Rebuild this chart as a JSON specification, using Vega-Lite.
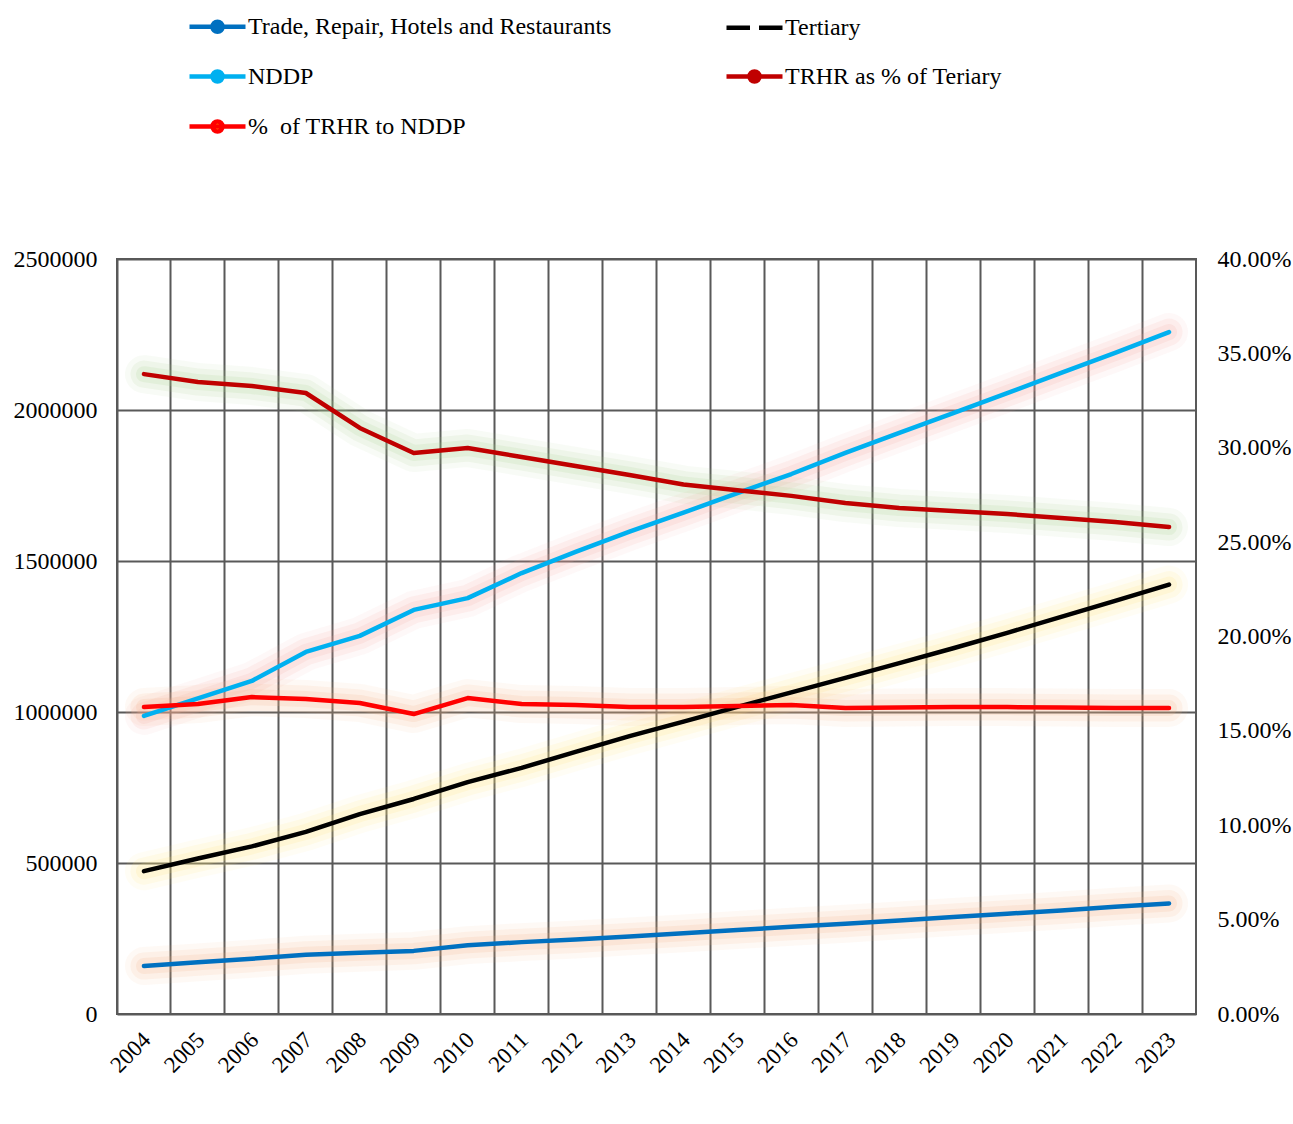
{
  "$schema": "https://vega.github.io/schema/vega-lite/v6.json",
  "width": 1079,
  "height": 755,
  "autosize": {"type": "pad"},
  "padding": {"left": 13, "top": 14, "right": 3, "bottom": 5},
  "background": "white",
  "config": {
    "font": "Liberation Serif",
    "view": {"stroke": "#595959", "strokeWidth": 2},
    "axis": {
      "labelFont": "Liberation Serif",
      "labelColor": "black",
      "domain": false,
      "ticks": false,
      "gridColor": "#595959",
      "gridWidth": 2,
      "gridOpacity": 1,
      "title": null
    }
  },
  "data": {
    "values": [
      {"year": 2004, "series": "Trade, Repair, Hotels and Restaurants", "value": 159000},
      {"year": 2005, "series": "Trade, Repair, Hotels and Restaurants", "value": 171000},
      {"year": 2006, "series": "Trade, Repair, Hotels and Restaurants", "value": 183000},
      {"year": 2007, "series": "Trade, Repair, Hotels and Restaurants", "value": 196000},
      {"year": 2008, "series": "Trade, Repair, Hotels and Restaurants", "value": 203000},
      {"year": 2009, "series": "Trade, Repair, Hotels and Restaurants", "value": 209000},
      {"year": 2010, "series": "Trade, Repair, Hotels and Restaurants", "value": 228000},
      {"year": 2011, "series": "Trade, Repair, Hotels and Restaurants", "value": 238000},
      {"year": 2012, "series": "Trade, Repair, Hotels and Restaurants", "value": 247000},
      {"year": 2013, "series": "Trade, Repair, Hotels and Restaurants", "value": 257000},
      {"year": 2014, "series": "Trade, Repair, Hotels and Restaurants", "value": 267000},
      {"year": 2015, "series": "Trade, Repair, Hotels and Restaurants", "value": 278000},
      {"year": 2016, "series": "Trade, Repair, Hotels and Restaurants", "value": 289000},
      {"year": 2017, "series": "Trade, Repair, Hotels and Restaurants", "value": 299000},
      {"year": 2018, "series": "Trade, Repair, Hotels and Restaurants", "value": 310000},
      {"year": 2019, "series": "Trade, Repair, Hotels and Restaurants", "value": 321000},
      {"year": 2020, "series": "Trade, Repair, Hotels and Restaurants", "value": 332000},
      {"year": 2021, "series": "Trade, Repair, Hotels and Restaurants", "value": 343000},
      {"year": 2022, "series": "Trade, Repair, Hotels and Restaurants", "value": 355000},
      {"year": 2023, "series": "Trade, Repair, Hotels and Restaurants", "value": 366000},

      {"year": 2004, "series": "Tertiary", "value": 473000},
      {"year": 2005, "series": "Tertiary", "value": 515000},
      {"year": 2006, "series": "Tertiary", "value": 555000},
      {"year": 2007, "series": "Tertiary", "value": 603000},
      {"year": 2008, "series": "Tertiary", "value": 662000},
      {"year": 2009, "series": "Tertiary", "value": 712000},
      {"year": 2010, "series": "Tertiary", "value": 768000},
      {"year": 2011, "series": "Tertiary", "value": 815000},
      {"year": 2012, "series": "Tertiary", "value": 868000},
      {"year": 2013, "series": "Tertiary", "value": 920000},
      {"year": 2014, "series": "Tertiary", "value": 968000},
      {"year": 2015, "series": "Tertiary", "value": 1017000},
      {"year": 2016, "series": "Tertiary", "value": 1065000},
      {"year": 2017, "series": "Tertiary", "value": 1113000},
      {"year": 2018, "series": "Tertiary", "value": 1162000},
      {"year": 2019, "series": "Tertiary", "value": 1211000},
      {"year": 2020, "series": "Tertiary", "value": 1262000},
      {"year": 2021, "series": "Tertiary", "value": 1315000},
      {"year": 2022, "series": "Tertiary", "value": 1368000},
      {"year": 2023, "series": "Tertiary", "value": 1422000},

      {"year": 2004, "series": "NDDP", "value": 987000},
      {"year": 2005, "series": "NDDP", "value": 1045000},
      {"year": 2006, "series": "NDDP", "value": 1103000},
      {"year": 2007, "series": "NDDP", "value": 1199000},
      {"year": 2008, "series": "NDDP", "value": 1252000},
      {"year": 2009, "series": "NDDP", "value": 1338000},
      {"year": 2010, "series": "NDDP", "value": 1377000},
      {"year": 2011, "series": "NDDP", "value": 1460000},
      {"year": 2012, "series": "NDDP", "value": 1530000},
      {"year": 2013, "series": "NDDP", "value": 1597000},
      {"year": 2014, "series": "NDDP", "value": 1660000},
      {"year": 2015, "series": "NDDP", "value": 1725000},
      {"year": 2016, "series": "NDDP", "value": 1788000},
      {"year": 2017, "series": "NDDP", "value": 1858000},
      {"year": 2018, "series": "NDDP", "value": 1924000},
      {"year": 2019, "series": "NDDP", "value": 1990000},
      {"year": 2020, "series": "NDDP", "value": 2056000},
      {"year": 2021, "series": "NDDP", "value": 2123000},
      {"year": 2022, "series": "NDDP", "value": 2189000},
      {"year": 2023, "series": "NDDP", "value": 2258000},

      {"year": 2004, "series": "TRHR as % of Teriary", "value": 0.339},
      {"year": 2005, "series": "TRHR as % of Teriary", "value": 0.3348},
      {"year": 2006, "series": "TRHR as % of Teriary", "value": 0.3327},
      {"year": 2007, "series": "TRHR as % of Teriary", "value": 0.329},
      {"year": 2008, "series": "TRHR as % of Teriary", "value": 0.3105},
      {"year": 2009, "series": "TRHR as % of Teriary", "value": 0.2972},
      {"year": 2010, "series": "TRHR as % of Teriary", "value": 0.2999},
      {"year": 2011, "series": "TRHR as % of Teriary", "value": 0.2951},
      {"year": 2012, "series": "TRHR as % of Teriary", "value": 0.2903},
      {"year": 2013, "series": "TRHR as % of Teriary", "value": 0.2856},
      {"year": 2014, "series": "TRHR as % of Teriary", "value": 0.2805},
      {"year": 2015, "series": "TRHR as % of Teriary", "value": 0.2775},
      {"year": 2016, "series": "TRHR as % of Teriary", "value": 0.2745},
      {"year": 2017, "series": "TRHR as % of Teriary", "value": 0.2707},
      {"year": 2018, "series": "TRHR as % of Teriary", "value": 0.2681},
      {"year": 2019, "series": "TRHR as % of Teriary", "value": 0.2665},
      {"year": 2020, "series": "TRHR as % of Teriary", "value": 0.2649},
      {"year": 2021, "series": "TRHR as % of Teriary", "value": 0.2628},
      {"year": 2022, "series": "TRHR as % of Teriary", "value": 0.2607},
      {"year": 2023, "series": "TRHR as % of Teriary", "value": 0.258},

      {"year": 2004, "series": "%\u00a0 of TRHR to NDDP", "value": 0.1626},
      {"year": 2005, "series": "%\u00a0 of TRHR to NDDP", "value": 0.1642},
      {"year": 2006, "series": "%\u00a0 of TRHR to NDDP", "value": 0.1679},
      {"year": 2007, "series": "%\u00a0 of TRHR to NDDP", "value": 0.1669},
      {"year": 2008, "series": "%\u00a0 of TRHR to NDDP", "value": 0.1648},
      {"year": 2009, "series": "%\u00a0 of TRHR to NDDP", "value": 0.1589},
      {"year": 2010, "series": "%\u00a0 of TRHR to NDDP", "value": 0.1674},
      {"year": 2011, "series": "%\u00a0 of TRHR to NDDP", "value": 0.1642},
      {"year": 2012, "series": "%\u00a0 of TRHR to NDDP", "value": 0.1637},
      {"year": 2013, "series": "%\u00a0 of TRHR to NDDP", "value": 0.1626},
      {"year": 2014, "series": "%\u00a0 of TRHR to NDDP", "value": 0.1626},
      {"year": 2015, "series": "%\u00a0 of TRHR to NDDP", "value": 0.1632},
      {"year": 2016, "series": "%\u00a0 of TRHR to NDDP", "value": 0.1637},
      {"year": 2017, "series": "%\u00a0 of TRHR to NDDP", "value": 0.1621},
      {"year": 2018, "series": "%\u00a0 of TRHR to NDDP", "value": 0.1624},
      {"year": 2019, "series": "%\u00a0 of TRHR to NDDP", "value": 0.1626},
      {"year": 2020, "series": "%\u00a0 of TRHR to NDDP", "value": 0.1626},
      {"year": 2021, "series": "%\u00a0 of TRHR to NDDP", "value": 0.1624},
      {"year": 2022, "series": "%\u00a0 of TRHR to NDDP", "value": 0.1621},
      {"year": 2023, "series": "%\u00a0 of TRHR to NDDP", "value": 0.1621}
    ]
  },
  "encoding": {
    "x": {
      "field": "year",
      "type": "ordinal",
      "scale": {"type": "band", "paddingInner": 0, "paddingOuter": 0},
      "axis": {
        "grid": true,
        "bandPosition": 0,
        "labelOffset": 3,
        "labelAngle": -45,
        "labelAlign": "right",
        "labelBaseline": "middle",
        "labelPadding": 22,
        "labelFontSize": 23
      }
    }
  },
  "layer": [
    {
      "transform": [{"filter": {"field": "series", "oneOf": ["Trade, Repair, Hotels and Restaurants", "Tertiary", "NDDP"]}}],
      "layer": [
        {"mark": {"type": "line", "strokeWidth": 38, "opacity": 0.08, "strokeCap": "round", "strokeJoin": "round"}},
        {"mark": {"type": "line", "strokeWidth": 27, "opacity": 0.12, "strokeCap": "round", "strokeJoin": "round"}},
        {"mark": {"type": "line", "strokeWidth": 16, "opacity": 0.16, "strokeCap": "round", "strokeJoin": "round"}}
      ],
      "encoding": {
        "y": {"field": "value", "type": "quantitative", "scale": {"domain": [0, 2500000], "nice": false}, "axis": null},
        "stroke": {
          "field": "series",
          "scale": {
            "domain": ["NDDP", "Tertiary", "Trade, Repair, Hotels and Restaurants", "TRHR as % of Teriary", "%\u00a0 of TRHR to NDDP"],
            "range": ["#F4A7A0", "#FFE97A", "#F4B183", "#A9D18E", "#F4B183"]
          },
          "legend": null
        }
      }
    },
    {
      "transform": [{"filter": {"field": "series", "oneOf": ["TRHR as % of Teriary", "%\u00a0 of TRHR to NDDP"]}}],
      "layer": [
        {"mark": {"type": "line", "strokeWidth": 38, "opacity": 0.08, "strokeCap": "round", "strokeJoin": "round"}},
        {"mark": {"type": "line", "strokeWidth": 27, "opacity": 0.12, "strokeCap": "round", "strokeJoin": "round"}},
        {"mark": {"type": "line", "strokeWidth": 16, "opacity": 0.16, "strokeCap": "round", "strokeJoin": "round"}}
      ],
      "encoding": {
        "y": {"field": "value", "type": "quantitative", "scale": {"domain": [0, 0.4], "nice": false}, "axis": null},
        "stroke": {"field": "series", "legend": null}
      }
    },
    {
      "transform": [{"filter": {"field": "series", "oneOf": ["Trade, Repair, Hotels and Restaurants", "Tertiary", "NDDP"]}}],
      "mark": {"type": "line", "strokeWidth": 4.5, "strokeCap": "round", "strokeJoin": "round"},
      "encoding": {
        "y": {
          "field": "value",
          "type": "quantitative",
          "scale": {"domain": [0, 2500000], "nice": false},
          "axis": {
            "orient": "left",
            "values": [0, 500000, 1000000, 1500000, 2000000, 2500000],
            "format": "d",
            "grid": true,
            "labelFontSize": 24,
            "labelPadding": 20
          }
        },
        "color": {
          "field": "series",
          "type": "nominal",
          "scale": {
            "domain": ["Trade, Repair, Hotels and Restaurants", "Tertiary", "NDDP", "TRHR as % of Teriary", "%\u00a0 of TRHR to NDDP"],
            "range": ["#0070C0", "#000000", "#00B0F0", "#C00000", "#FF0000"]
          },
          "legend": {
            "orient": "none",
            "legendX": 88,
            "legendY": -245,
            "direction": "horizontal",
            "columns": 2,
            "title": null,
            "padding": 0,
            "gridAlign": "all",
            "columnPadding": 105,
            "rowPadding": 21,
            "symbolSize": 400,
            "symbolStrokeWidth": 4.5,
            "labelFont": "Liberation Serif",
            "labelFontSize": 24,
            "labelColor": "black",
            "labelOffset": 18,
            "labelLimit": 700,
            "encode": {
              "symbols": {
                "update": {
                  "shape": {"signal": "datum.value === 'Tertiary' ? 'M-2.8,0H-0.45M0.45,0H2.8' : 'M-2.8,0H2.8M-0.5,0A0.5,0.5 0 1,1 0.5,0A0.5,0.5 0 1,1 -0.5,0'"},
                  "fill": {"signal": "datum.value === 'Tertiary' ? 'transparent' : (indexof(datum.value, 'of TRHR to NDDP') >= 0 ? '#FFC000' : scale('color', datum.value))"},
                  "opacity": {"value": 1}
                }
              }
            }
          }
        }
      }
    },
    {
      "transform": [{"filter": {"field": "series", "oneOf": ["TRHR as % of Teriary", "%\u00a0 of TRHR to NDDP"]}}],
      "mark": {"type": "line", "strokeWidth": 4.5, "strokeCap": "round", "strokeJoin": "round"},
      "encoding": {
        "y": {
          "field": "value",
          "type": "quantitative",
          "scale": {"domain": [0, 0.4], "nice": false},
          "axis": {
            "orient": "right",
            "values": [0, 0.05, 0.1, 0.15, 0.2, 0.25, 0.3, 0.35, 0.4],
            "format": ".2%",
            "grid": false,
            "labelFontSize": 24,
            "labelPadding": 21
          }
        },
        "color": {"field": "series", "type": "nominal"}
      }
    }
  ],
  "resolve": {"scale": {"y": "independent"}}
}
